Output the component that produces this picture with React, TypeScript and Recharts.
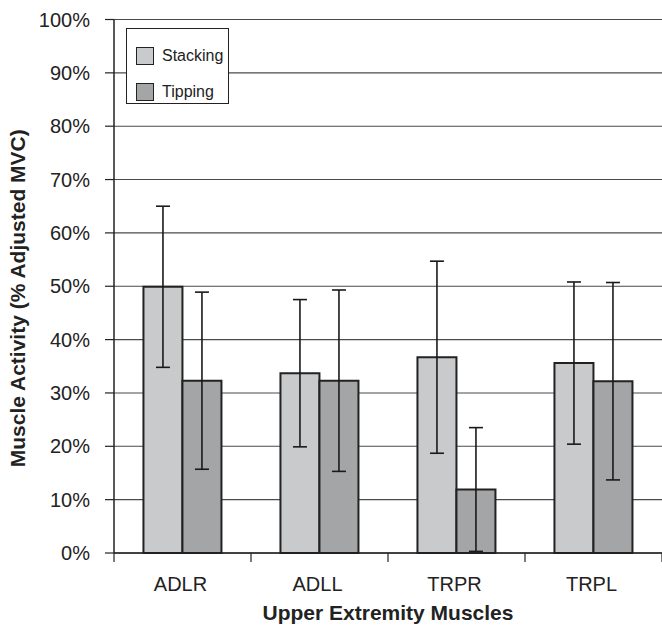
import React from 'react';
import { BarChart, Bar, XAxis, YAxis, CartesianGrid, Legend, ErrorBar, Label } from 'recharts';

const categories = ['ADLR', 'ADLL', 'TRPR', 'TRPL'];
const stacking = [49.9, 33.7, 36.7, 35.6];
const stackingErr = [15.1, 13.8, 18.0, 15.2];
const tipping = [32.3, 32.3, 11.9, 32.2];
const tippingErr = [16.6, 17.0, 11.6, 18.5];
const yTicks = [0, 10, 20, 30, 40, 50, 60, 70, 80, 90, 100];

const FONT = '"Liberation Sans", Arial, Helvetica, sans-serif';
const STACK_FILL = '#c9cacc';
const TIP_FILL = '#a4a5a7';

const data = categories.map((name, i) => ({
  name,
  stacking: stacking[i],
  stackingErr: stackingErr[i],
  tipping: tipping[i],
  tippingErr: tippingErr[i],
}));

const fills: Record<string, string> = { stacking: STACK_FILL, tipping: TIP_FILL };

// category label in the middle, tick marks on the band edges
const CategoryTick = (props: any) => {
  const { x, y, payload, index } = props;
  const half = payload.offset || 0;
  const axisY = y - 24;
  const last = index === categories.length - 1;
  return (
    <g>
      <line x1={x - half} x2={x - half} y1={axisY} y2={axisY + 9} stroke="#222" strokeWidth={1.2} />
      {last && <line x1={x + half} x2={x + half} y1={axisY} y2={axisY + 9} stroke="#222" strokeWidth={1.2} />}
      <text x={x - 2} y={y} dy="0.71em" textAnchor="middle" fill="#222" fontSize={20} fontFamily={FONT}>
        {payload.value}
      </text>
    </g>
  );
};

const LegendBox = (props: any) => {
  const { payload = [] } = props;
  return (
    <div
      style={{
        background: '#fff',
        border: '1px solid #222',
        width: 103,
        height: 76,
        boxSizing: 'border-box',
        padding: '9px 0 0 9px',
        fontFamily: FONT,
        fontSize: 16,
        color: '#222',
      }}
    >
      {payload.map((entry: any) => (
        <div key={entry.value} style={{ display: 'flex', alignItems: 'center', height: 36 }}>
          <span
            style={{
              display: 'inline-block',
              width: 18,
              height: 18,
              boxSizing: 'border-box',
              border: '1.5px solid #222',
              background: fills[entry.dataKey] || entry.color,
              marginRight: 8,
            }}
          />
          <span>{entry.value}</span>
        </div>
      ))}
    </div>
  );
};

const YTitle = (props: any) => {
  const vb = props.viewBox || { x: 0, y: 0, height: 0 };
  const cx = vb.x + 17;
  const cy = vb.y + vb.height / 2 + 12;
  return (
    <text
      x={cx}
      y={cy}
      transform={`rotate(-90 ${cx} ${cy})`}
      textAnchor="middle"
      dominantBaseline="central"
      fontFamily={FONT}
      fontWeight="bold"
      fontSize={21}
      fill="#222"
    >
      Muscle Activity (% Adjusted MVC)
    </text>
  );
};

export default function App() {
  return (
    <div style={{ position: 'absolute', left: 0, top: 0, background: '#fff' }}>
      <BarChart
        width={662}
        height={628}
        data={data}
        margin={{ top: 19.5, right: 0, left: 0, bottom: 0 }}
        barCategoryGap="21.5%"
        barGap={0}
      >
        <CartesianGrid vertical={false} stroke="#4a4a4a" strokeWidth={1.1} />
        <XAxis
          dataKey="name"
          height={75}
          axisLine={{ stroke: '#222', strokeWidth: 1.5 }}
          tickLine={false}
          tickSize={0}
          tickMargin={24}
          tick={<CategoryTick />}
          interval={0}
        >
          <Label
            value="Upper Extremity Muscles"
            position="insideBottom"
            offset={8}
            fontFamily={FONT}
            fontWeight="bold"
            fontSize={21}
            fill="#222"
          />
        </XAxis>
        <YAxis
          width={114}
          domain={[0, 100]}
          ticks={yTicks}
          tickFormatter={(v: number) => `${v}%`}
          axisLine={{ stroke: '#222', strokeWidth: 1.5 }}
          tickLine={{ stroke: '#222', strokeWidth: 1.2 }}
          tickSize={9}
          tickMargin={15}
          tick={{ fill: '#222', fontSize: 20, fontFamily: FONT }}
          interval={0}
        >
          <Label content={<YTitle />} />
        </YAxis>
        <Legend
          layout="vertical"
          align="center"
          verticalAlign="middle"
          content={<LegendBox />}
          wrapperStyle={{ left: 126, top: 28, width: 'auto', height: 'auto' }}
        />
        <Bar dataKey="stacking" name="Stacking" fill={STACK_FILL} stroke="#222" strokeWidth={2} isAnimationActive={false}>
          <ErrorBar dataKey="stackingErr" width={7} stroke="#1a1a1a" strokeWidth={1.6} />
        </Bar>
        <Bar dataKey="tipping" name="Tipping" fill={TIP_FILL} stroke="#222" strokeWidth={2} isAnimationActive={false}>
          <ErrorBar dataKey="tippingErr" width={7} stroke="#1a1a1a" strokeWidth={1.6} />
        </Bar>
      </BarChart>
    </div>
  );
}
